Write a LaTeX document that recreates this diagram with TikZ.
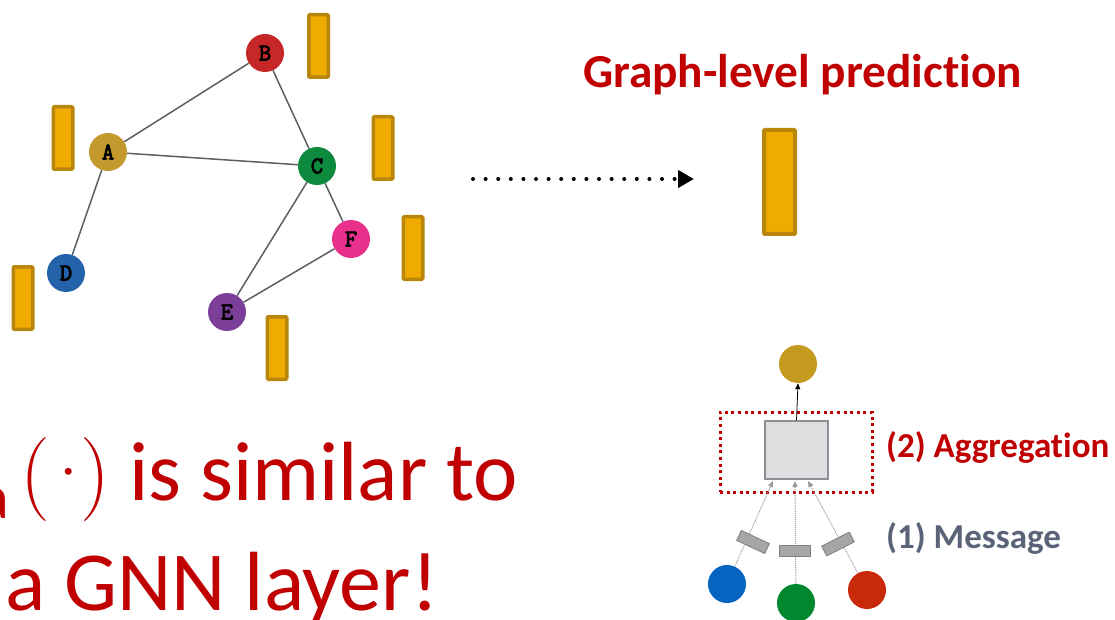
\documentclass[tikz,border=0pt]{standalone}
\usepackage{fontspec}
\setmainfont{Carlito}[Ligatures={NoCommon,NoRare,NoContextual}]
\newfontfamily\lmr{Latin Modern Roman}
\newfontfamily\gmono{Latin Modern Mono}[FakeBold=3.5]
\usetikzlibrary{arrows.meta}
\definecolor{barfill}{HTML}{F0AB00}
\definecolor{barline}{HTML}{B8860B}
\definecolor{edgecol}{HTML}{5A5F66}
\definecolor{nA}{HTML}{C49A2E}
\definecolor{nB}{HTML}{C62828}
\definecolor{nC}{HTML}{0E8A3E}
\definecolor{nD}{HTML}{2462A9}
\definecolor{nE}{HTML}{7B3F99}
\definecolor{nF}{HTML}{E8308C}
\definecolor{titlered}{HTML}{C00000}
\definecolor{msggray}{HTML}{5A6378}
\definecolor{boxfill}{HTML}{DDDEE0}
\definecolor{boxline}{HTML}{8C9096}
\definecolor{mblue}{HTML}{0563C1}
\definecolor{mgreen}{HTML}{00882F}
\definecolor{mred}{HTML}{C9290B}
\definecolor{mgold}{HTML}{C49A1E}
\definecolor{msgfill}{HTML}{A6A6A6}
\definecolor{msgline}{HTML}{7F7F7F}
\begin{document}
\begin{tikzpicture}[x=1pt,y=-1pt,
  gnode/.style={circle, minimum size=38pt, inner sep=0pt, text=black,
    font=\gmono\fontsize{24}{24}\selectfont},
  edge/.style={draw=edgecol, line width=1.5pt},
  bar/.style={draw=barline, fill=barfill, line width=3.5pt, rounded corners=1pt,
    minimum width=19.5pt, minimum height=62.5pt, inner sep=0pt},
  bigbar/.style={draw=barline, fill=barfill, line width=4pt, rounded corners=1pt,
    minimum width=31pt, minimum height=104pt, inner sep=0pt},
  mcircle/.style={circle, minimum size=38pt, inner sep=0pt},
  msg/.style={draw=msgline, fill=msgfill, line width=0.8pt, minimum width=31pt,
    minimum height=11pt, inner sep=0pt},
  feed/.style={draw=gray!80, line width=1pt, densely dotted,
    -{Triangle[length=6pt,width=5pt]}},
  redtxt/.style={text=titlered, font=\bfseries\fontsize{35}{40}\selectfont, inner sep=0pt},
]
\useasboundingbox (0,0) rectangle (1115,620);
\begin{scope}
\clip (0,0) rectangle (1115,620);

% ---------- graph ----------
\node[gnode, fill=nA] (A) at (108,152) {A};
\node[gnode, fill=nB] (B) at (265,53) {B};
\node[gnode, fill=nC] (C) at (317,166) {C};
\node[gnode, fill=nD] (D) at (66,273) {D};
\node[gnode, fill=nE] (E) at (227,312) {E};
\node[gnode, fill=nF] (F) at (351,239) {F};
\draw[edge] (A) -- (B);
\draw[edge] (A) -- (C);
\draw[edge] (B) -- (C);
\draw[edge] (A) -- (D);
\draw[edge] (C) -- (E);
\draw[edge] (C) -- (F);
\draw[edge] (E) -- (F);

% ---------- embeddings ----------
\node[bar] (barB) at (318.5,46) {};
\node[bar] (barA) at (63,138) {};
\node[bar] (barC) at (383,148) {};
\node[bar] (barF) at (413,248) {};
\node[bar] (barD) at (23,298) {};
\node[bar] (barE) at (277,348) {};

% ---------- graph-level prediction ----------
\coordinate (arrS) at (473,179);
\coordinate (arrT) at (694,179);
\draw[line width=4pt, dash pattern=on 0pt off 12.6pt, line cap=round,
  -{Triangle[length=16pt,width=17pt]}] (arrS) -- (arrT);
\node[bigbar] (pred) at (779.5,182) {};
\node[anchor=base west, inner sep=0pt, text=titlered,
  font=\bfseries\fontsize{47.3}{52}\selectfont] (title) at (583,88) {Graph-level prediction};

% ---------- GNN layer sketch ----------
\node[mcircle, fill=mgold] (out) at (798,364) {};
\node[draw=boxline, fill=boxfill, line width=1.2pt, minimum width=63pt,
  minimum height=58pt, inner sep=0pt] (agg) at (796.5,450) {};
\node[draw=titlered, line width=3pt, dash pattern=on 3pt off 3.6pt,
  minimum width=152pt, minimum height=80pt, inner sep=0pt] (frame) at (796,452) {};
\draw[black, line width=0.8pt, -{Triangle[length=6pt,width=5pt]}] (agg.north) -- (out.south);

\node[mcircle, fill=mblue] (u1) at (727,584) {};
\node[mcircle, fill=mgreen] (u2) at (796,603) {};
\node[mcircle, fill=mred] (u3) at (867,590) {};
\coordinate (in1) at (773,481);
\coordinate (in2) at (795,481);
\coordinate (in3) at (808,481);
\draw[feed] (u1) -- (in1);
\draw[feed] (u2) -- (in2);
\draw[feed] (u3) -- (in3);
\node[msg, rotate=-25] (m1) at (753,542) {};
\node[msg] (m2) at (795,551) {};
\node[msg, rotate=27] (m3) at (838,544) {};

\node[redtxt, anchor=base west] (aggtxt) at (886,457) {(2) Aggregation};
\node[anchor=base west, inner sep=0pt, text=msggray,
  font=\bfseries\fontsize{35}{40}\selectfont] (msgtxt) at (886,548) {(1) Message};

% ---------- big statement ----------
\node[anchor=base east, inner sep=0pt, text=titlered,
  font=\fontsize{62}{70}\selectfont] (sub) at (9,518) {a};
\node[anchor=base west, inner sep=0pt, text=titlered,
  font=\fontsize{84}{100}\selectfont] (line1) at (20,500)
  {{\lmr(\kern-12pt·\kern-18pt)} is similar to};
\node[anchor=base west, inner sep=0pt, text=titlered,
  font=\fontsize{84}{100}\selectfont] (line2) at (5,610) {a GNN layer!};
\end{scope}
\end{tikzpicture}
\end{document}
